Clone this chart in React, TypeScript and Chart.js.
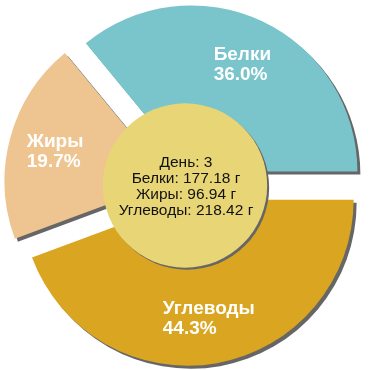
import React, { useEffect, useRef } from 'react';
import { Chart, registerables } from 'chart.js';

Chart.register(...registerables);

// Data (clockwise from 3 o'clock)
const sliceNames = ['Углеводы', 'Жиры', 'Белки'];
const sliceGrams = [218.42, 96.94, 177.18];
const sliceColors = ['#DAA520', '#EEC591', '#7AC4CC'];

// Center text
const dayText = 'День: 3';
const centerNames = ['Белки', 'Жиры', 'Углеводы'];
const centerGrams = ['177.18', '96.94', '218.42'];

const EXPLODE = 15;
const SHADOW = '#666666';
const FONT = '"Liberation Sans", Arial, sans-serif';

const total = sliceGrams.reduce((a, b) => a + b, 0);
const slicePercents = sliceGrams.map((g) => ((g / total) * 100).toFixed(1) + '%');

const pieDecor = {
  id: 'pieDecor',
  afterDatasetUpdate(chart: any, args: any) {
    args.meta.data.forEach((arc: any) => {
      const mid = (arc.startAngle + arc.endAngle) / 2;
      arc.x += Math.cos(mid) * EXPLODE;
      arc.y += Math.sin(mid) * EXPLODE;
    });
  },
  beforeDatasetDraw(chart: any) {
    const ctx = chart.ctx;
    ctx.save();
    ctx.shadowColor = SHADOW;
    ctx.shadowOffsetX = 3;
    ctx.shadowOffsetY = 3;
    ctx.shadowBlur = 0;
  },
  afterDatasetDraw(chart: any) {
    chart.ctx.restore();
  },
  afterDatasetsDraw(chart: any) {
    const ctx = chart.ctx;
    const meta = chart.getDatasetMeta(0);
    const area = chart.chartArea;
    const cx = (area.left + area.right) / 2;
    const cy = (area.top + area.bottom) / 2;
    let R = 0;

    // slice labels
    ctx.save();
    ctx.font = 'bold 19px ' + FONT;
    ctx.fillStyle = '#ffffff';
    ctx.textAlign = 'left';
    ctx.textBaseline = 'alphabetic';
    meta.data.forEach((arc: any, i: number) => {
      R = arc.outerRadius;
      const mid = (arc.startAngle + arc.endAngle) / 2;
      const r = arc.outerRadius * 0.72;
      const bx = arc.x + Math.cos(mid) * r;
      const by = arc.y + Math.sin(mid) * r;
      const lines = [sliceNames[i], slicePercents[i]];
      const w = Math.max(...lines.map((l) => ctx.measureText(l).width));
      const x0 = bx - w / 2;
      const b1 = by - 3.4;
      ctx.fillText(lines[0], x0, b1);
      ctx.fillText(lines[1], x0, b1 + 20.3);
    });
    ctx.restore();

    // center circle
    const cr = R * 0.495;
    ctx.save();
    ctx.shadowColor = SHADOW;
    ctx.shadowOffsetX = 2;
    ctx.shadowOffsetY = 2;
    ctx.shadowBlur = 0;
    ctx.fillStyle = '#E8D676';
    ctx.beginPath();
    ctx.arc(cx, cy + 0.5, cr, 0, Math.PI * 2);
    ctx.fill();
    ctx.restore();

    // center text
    ctx.save();
    ctx.font = '15.5px ' + FONT;
    ctx.fillStyle = '#111111';
    ctx.textAlign = 'center';
    ctx.textBaseline = 'alphabetic';
    const lines = [dayText, ...centerNames.map((n, i) => n + ': ' + centerGrams[i] + ' г')];
    const lh = 15.7;
    const firstBase = cy + 0.5 - ((lines.length - 1) * lh) / 2 + 5.5;
    lines.forEach((l, i) => ctx.fillText(l, cx + 1, firstBase + i * lh));
    ctx.restore();
  },
};

export default function App() {
  const ref = useRef<HTMLCanvasElement | null>(null);
  useEffect(() => {
    if (!ref.current) return;
    const chart = new Chart(ref.current, {
      type: 'pie',
      data: {
        labels: sliceNames,
        datasets: [
          {
            data: sliceGrams,
            backgroundColor: sliceColors,
            borderWidth: 0,
            radius: 166,
            clip: false,
          } as any,
        ],
      },
      options: {
        responsive: false,
        animation: false,
        events: [],
        rotation: 90,
        layout: { padding: 0 },
        plugins: {
          legend: { display: false },
          tooltip: { enabled: false },
        },
      },
      plugins: [pieDecor],
    });
    return () => chart.destroy();
  }, []);
  return (
    <div style={{ position: 'absolute', left: 0, top: 0, width: 370, height: 370, background: '#fff' }}>
      <canvas ref={ref} width={370} height={370} style={{ display: 'block' }} />
    </div>
  );
}
